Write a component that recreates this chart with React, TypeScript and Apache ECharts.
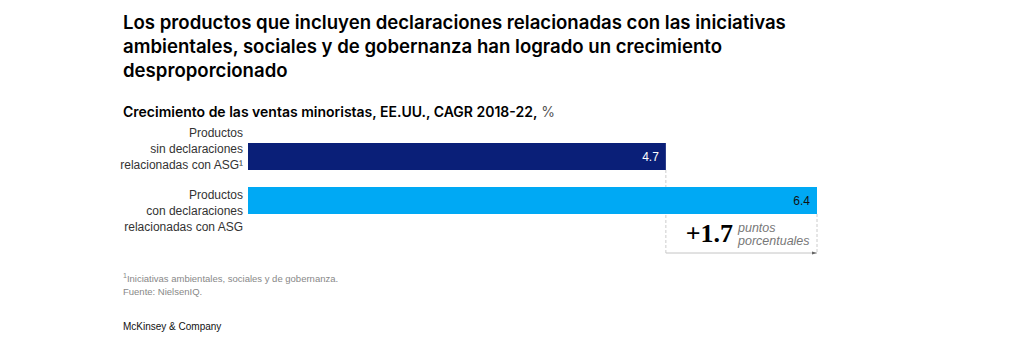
import React, { useEffect, useRef } from "react";
import * as echarts from "echarts";

const categories = [
  "Productos\nsin declaraciones\nrelacionadas con ASG¹",
  "Productos\ncon declaraciones\nrelacionadas con ASG",
];
const values = [4.7, 6.4];
const barColors = ["#0A1F78", "#00A9F4"];
const labelColors = ["#FFFFFF", "#111111"];
const differenceText = "+1.7";

export default function App() {
  const ref = useRef<HTMLDivElement>(null);
  useEffect(() => {
    const chart = echarts.init(ref.current!, null, { renderer: "svg" });
    const font = "'Liberation Sans', Arial, sans-serif";
    const titleFont = "Inter, 'Liberation Sans', sans-serif";
    chart.setOption({
      animation: false,
      grid: { left: 248, top: 134.5, width: 569, height: 88, containLabel: false },
      xAxis: { type: "value", min: 0, max: 6.4, show: false },
      yAxis: {
        type: "category",
        data: categories,
        inverse: true,
        axisLine: { show: false },
        axisTick: { show: false },
        axisLabel: { show: false },
      },
      series: [
        {
          type: "bar",
          barWidth: 27,
          data: values.map((v, i) => ({
            value: v,
            itemStyle: { color: barColors[i] },
            label: { color: labelColors[i] },
          })),
          label: {
            show: true,
            position: "insideRight",
            distance: 7,
            fontSize: 12,
            fontFamily: font,
            formatter: (p: any) => p.value.toFixed(1),
          },
        },
      ],
    });

    const x0 = chart.convertToPixel({ xAxisIndex: 0 }, values[0]) as number;
    const x1 = chart.convertToPixel({ xAxisIndex: 0 }, values[1]) as number;
    const yc0 = chart.convertToPixel({ yAxisIndex: 0 }, categories[0]) as number;
    const yc1 = chart.convertToPixel({ yAxisIndex: 0 }, categories[1]) as number;
    const half = 13.5;
    const baseY = 253;

    chart.setOption({
      graphic: [
        {
          type: "text",
          left: 123,
          top: 10,
          style: {
            text:
              "Los productos que incluyen declaraciones relacionadas con las iniciativas\nambientales, sociales y de gobernanza han logrado un crecimiento\ndesproporcionado",
            font: `600 18.6px ${titleFont}`,
            lineHeight: 24,
            fill: "#000",
          },
        },
        {
          type: "text",
          left: 123,
          top: 104,
          style: {
            text: "{b|Crecimiento de las ventas minoristas, EE.UU., CAGR 2018-22,} {n|%}",
            rich: {
              b: { font: `600 14px ${titleFont}`, fill: "#000" },
              n: { font: `14px ${titleFont}`, fill: "#555" },
            },
          },
        },
        {
          type: "text",
          x: 243,
          y: yc0 + half + 3,
          style: {
            text: categories[0],
            font: `12px ${font}`,
            lineHeight: 16,
            fill: "#333",
            align: "right",
            verticalAlign: "bottom",
          },
        },
        {
          type: "text",
          x: 243,
          y: yc1 - half,
          style: {
            text: categories[1],
            font: `12px ${font}`,
            lineHeight: 16,
            fill: "#333",
            align: "right",
            verticalAlign: "top",
          },
        },
        {
          type: "line",
          shape: { x1: x0, y1: yc0 + half, x2: x0, y2: baseY },
          style: { stroke: "#cccccc", lineWidth: 1, lineDash: [3, 2] },
        },
        {
          type: "line",
          shape: { x1: x1, y1: yc1 + half, x2: x1, y2: baseY },
          style: { stroke: "#cccccc", lineWidth: 1, lineDash: [3, 2] },
        },
        {
          type: "line",
          shape: { x1: x0, y1: baseY, x2: x1, y2: baseY },
          style: { stroke: "#c4c4c4", lineWidth: 1 },
        },
        {
          type: "polygon",
          shape: { points: [[x1 - 5, baseY - 1.5], [x1, baseY], [x1 - 5, baseY + 1.5]] },
          style: { fill: "#666" },
        },
        {
          type: "text",
          x: 733,
          y: 246,
          style: {
            text: differenceText,
            font: `bold 26px 'Liberation Serif', 'DejaVu Serif', serif`,
            fill: "#000",
            align: "right",
            verticalAlign: "bottom",
          },
        },
        {
          type: "text",
          x: 738,
          y: 221,
          style: {
            text: "puntos\nporcentuales",
            font: `italic 12.5px ${font}`,
            lineHeight: 13,
            fill: "#777",
            align: "left",
            verticalAlign: "top",
          },
        },
        {
          type: "text",
          left: 123,
          top: 272,
          style: {
            text: "{s|1}{t|Iniciativas ambientales, sociales y de gobernanza.}\n{t|Fuente: NielsenIQ.}",
            rich: {
              s: { font: `7px ${font}`, fill: "#888", verticalAlign: "top", lineHeight: 13 },
              t: { font: `9.5px ${font}`, fill: "#888", lineHeight: 13 },
            },
          },
        },
        {
          type: "text",
          left: 123,
          top: 321,
          style: { text: "McKinsey & Company", font: `10px ${font}`, fill: "#111" },
        },
      ],
    });
    return () => chart.dispose();
  }, []);
  return (
    <div
      ref={ref}
      style={{ position: "fixed", left: 0, top: 0, width: 1024, height: 355, background: "#fff" }}
    />
  );
}
